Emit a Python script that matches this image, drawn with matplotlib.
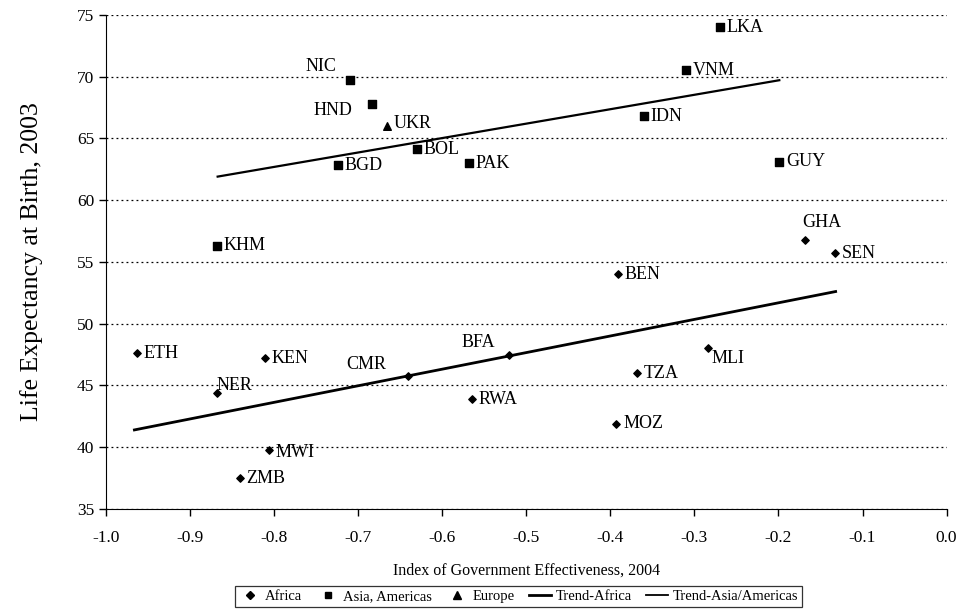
import matplotlib.pyplot as plt
from matplotlib.lines import Line2D

plt.rcParams['font.family'] = ['Liberation Serif', 'DejaVu Serif']

# Government effectiveness (x) vs life expectancy (y), by region
africa_codes = ['ETH', 'KEN', 'NER', 'CMR', 'BFA', 'RWA', 'MWI', 'ZMB',
                'TZA', 'MOZ', 'MLI', 'BEN', 'GHA', 'SEN']
africa_x = [-0.963, -0.811, -0.868, -0.641, -0.521, -0.565, -0.806, -0.841,
            -0.368, -0.393, -0.284, -0.391, -0.168, -0.133]
africa_y = [47.6, 47.2, 44.4, 45.8, 47.5, 43.9, 39.8, 37.5,
            46.0, 41.9, 48.0, 54.0, 56.8, 55.7]

asia_codes = ['NIC', 'HND', 'BOL', 'BGD', 'PAK', 'KHM', 'LKA', 'VNM', 'IDN', 'GUY']
asia_x = [-0.710, -0.684, -0.630, -0.724, -0.568, -0.868, -0.270, -0.310, -0.360, -0.199]
asia_y = [69.7, 67.8, 64.1, 62.8, 63.0, 56.3, 74.0, 70.5, 66.8, 63.1]

europe_codes = ['UKR']
europe_x = [-0.666]
europe_y = [66.0]

# Trend line end points
trend_africa_x = [-0.966, -0.132]
trend_africa_y = [41.4, 52.6]
trend_asia_x = [-0.867, -0.199]
trend_asia_y = [61.9, 69.7]

# Label offsets in points (default: to the right of the marker)
label_offsets = {
    'NIC': (-32, 10), 'HND': (-42, -5), 'GHA': (-2, 12),
    'BFA': (-34, 9), 'CMR': (-44, 8), 'NER': (0, 5),
    'MLI': (3, -7), 'MWI': (5, -2), 'UKR': (5, 2),
}

fig = plt.figure(figsize=(9.62, 6.14), dpi=100)
ax = fig.add_axes([0.110, 0.171, 0.874, 0.805])

ax.plot(trend_africa_x, trend_africa_y, color='black', lw=2.0, zorder=2)
ax.plot(trend_asia_x, trend_asia_y, color='black', lw=1.6, zorder=2)

ax.scatter(africa_x, africa_y, marker='D', s=14, color='black', zorder=3)
ax.scatter(asia_x, asia_y, marker='s', s=28, color='black', zorder=3)
ax.scatter(europe_x, europe_y, marker='^', s=30, color='black', zorder=3)

for codes, xs, ys in [(africa_codes, africa_x, africa_y),
                      (asia_codes, asia_x, asia_y),
                      (europe_codes, europe_x, europe_y)]:
    for c, x, y in zip(codes, xs, ys):
        dx, dy = label_offsets.get(c, (5, 0))
        ax.annotate(c, (x, y), xytext=(dx, dy), textcoords='offset points',
                    ha='left', va='center', fontsize=13, zorder=4)

ax.set_xlim(-1.0, 0.0)
ax.set_ylim(35, 75)
ax.set_xticks([-1.0 + 0.1 * i for i in range(11)])
ax.set_xticklabels([f'{-1.0 + 0.1 * i:.1f}' for i in range(11)])
ax.set_yticks(range(35, 80, 5))
ax.tick_params(axis='both', labelsize=12.5, direction='out', length=5, width=1)
ax.tick_params(axis='x', pad=10)

ax.yaxis.grid(True, linestyle=(0, (1.5, 2.5)), color='black', lw=0.9)
ax.set_axisbelow(True)
for side in ['top', 'right']:
    ax.spines[side].set_visible(False)

ax.set_xlabel('Index of Government Effectiveness, 2004', fontsize=11.5, labelpad=12)
ax.set_ylabel('Life Expectancy at Birth, 2003', fontsize=18.5, labelpad=24)

handles = [
    Line2D([], [], ls='none', marker='D', ms=4, color='black'),
    Line2D([], [], ls='none', marker='s', ms=5, color='black'),
    Line2D([], [], ls='none', marker='^', ms=5.5, color='black'),
    Line2D([], [], color='black', lw=2.0),
    Line2D([], [], color='black', lw=1.3),
]
labels = ['Africa', 'Asia, Americas', 'Europe', 'Trend-Africa', 'Trend-Asia/Americas']
leg = fig.legend(handles, labels, loc='lower center', bbox_to_anchor=(0.539, 0.0),
                 ncol=5, fontsize=10.5, frameon=True, fancybox=False, edgecolor='black',
                 handlelength=1.5, handletextpad=0.3, columnspacing=1.0,
                 borderpad=0.25)
leg.get_frame().set_linewidth(0.9)

fig.savefig('out.png', dpi=100)
